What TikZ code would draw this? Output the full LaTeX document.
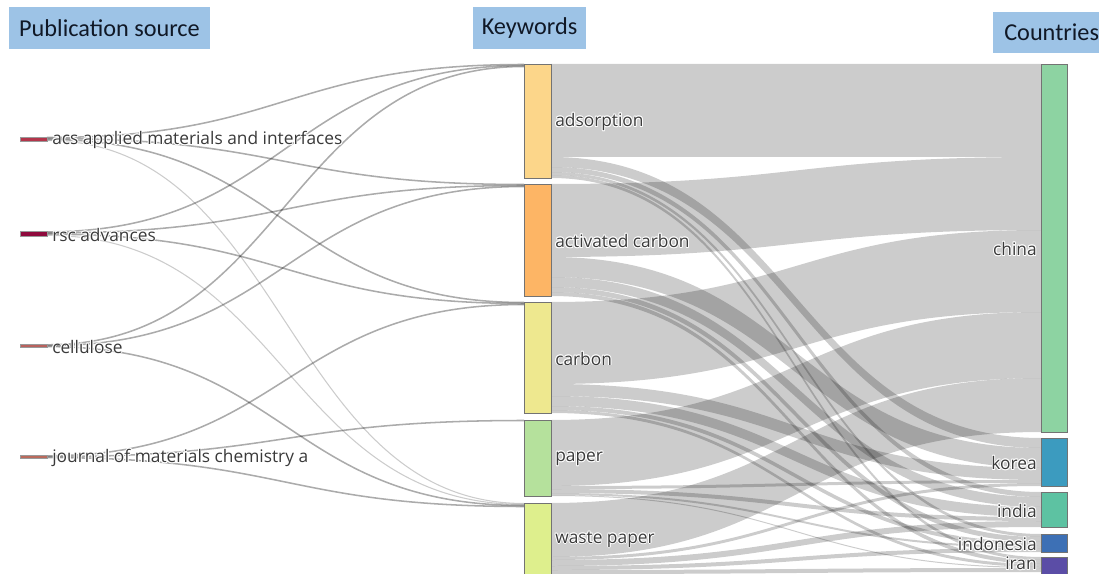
\documentclass[tikz,border=0pt]{standalone}
\usepackage{fontspec}
\setmainfont{Open Sans}
\newfontfamily\hdrfont{Carlito}
\definecolor{hdrblue}{HTML}{9DC3E6}
\definecolor{hdrtxt}{HTML}{101826}
\definecolor{lbltxt}{HTML}{3A3A3A}
\definecolor{cAds}{HTML}{FCD68A}
\definecolor{cAC}{HTML}{FDB565}
\definecolor{cCarb}{HTML}{EEE88F}
\definecolor{cPaper}{HTML}{B5E19C}
\definecolor{cWaste}{HTML}{DEEF8D}
\definecolor{cChina}{HTML}{8DD3A2}
\definecolor{cKorea}{HTML}{3C9BBF}
\definecolor{cIndia}{HTML}{5DC2A2}
\definecolor{cIndo}{HTML}{3D70B5}
\definecolor{cIran}{HTML}{5B4DA6}
\definecolor{cAcs}{HTML}{B3364B}
\definecolor{cRsc}{HTML}{8F0A3D}
\definecolor{cCell}{HTML}{B8625E}
\definecolor{cJour}{HTML}{BA6A5C}
\newcommand\kband[4]{\fill[flow] (551,#1) .. controls (796,#1) and (796,#3) .. (1041,#3) -- (1041,#4) .. controls (796,#4) and (796,#2) .. (551,#2) -- cycle;}
\newcommand\slink[3]{\draw[srclink,#3] (47,#1) .. controls (285.5,#1) and (285.5,#2) .. (524,#2);}
\newcommand\hsh[3]{\rlap{\hspace*{#1}\raisebox{#2}{#3}}}
\newcommand\halo[1]{{\color{white}\hsh{0.7pt}{0pt}{#1}\hsh{-0.7pt}{0pt}{#1}\hsh{0pt}{0.7pt}{#1}\hsh{0pt}{-0.7pt}{#1}\hsh{0.5pt}{0.5pt}{#1}\hsh{-0.5pt}{0.5pt}{#1}\hsh{0.5pt}{-0.5pt}{#1}\hsh{-0.5pt}{-0.5pt}{#1}}#1}
\begin{document}
\begin{tikzpicture}[x=0.75pt,y=-0.75pt,
  flow/.style={fill=black,fill opacity=0.2},
  srclink/.style={draw=black,draw opacity=0.33,line width=1.15pt},
  lightlink/.style={draw opacity=0.2,line width=0.8pt},
  nodebox/.style={draw=black!55,line width=0.4pt},
  srcbar/.style={draw=black!40,line width=0.3pt},
  hdrbox/.style={fill=hdrblue},
  hdrlabel/.style={font=\hdrfont\fontsize{18.2}{20}\selectfont,text=hdrtxt,inner sep=0pt},
  lbl/.style={font=\fontsize{13}{15}\selectfont,text=lbltxt,inner sep=0pt},
  lblw/.style={lbl,anchor=west},
  lble/.style={lbl,anchor=east}]
\useasboundingbox (0,0) rectangle (1099,574);
\clip (0,0) rectangle (1099,574);
% headers
\fill[hdrbox] (9,7) rectangle (210,49);
\node[hdrlabel] (hsrc) at (109.5,28) {Publication source};
\fill[hdrbox] (473,7) rectangle (586,49);
\node[hdrlabel] (hkw) at (529.5,28) {Keywords};
\fill[hdrbox] (993,12) rectangle (1110,53);
\node[hdrlabel,anchor=west] (hco) at (1004,32.5) {Countries};
% keyword -> country flows
\kband{64}{157}{64}{157}
\kband{157}{167}{438}{448}
\kband{167}{172}{492}{497}
\kband{172}{175}{534}{537}
\kband{175}{178}{557}{560}
\kband{184}{257}{157}{230}
\kband{257}{277}{448}{468}
\kband{277}{287}{497}{507}
\kband{287}{292}{537}{542}
\kband{292}{296}{560}{564}
\kband{302}{384}{230}{312}
\kband{384}{396}{468}{480}
\kband{396}{406}{507}{517}
\kband{406}{410}{542}{546}
\kband{410}{413}{564}{567}
\kband{420}{486}{312}{378}
\kband{486}{489}{480}{483}
\kband{489}{493}{517}{521}
\kband{493}{495}{546}{548}
\kband{495}{496}{567}{568}
\kband{503}{557}{378}{432}
\kband{557}{560}{483}{486}
\kband{560}{566}{521}{527}
\kband{566}{570}{548}{552}
\kband{570}{574}{568}{572}
% source -> keyword links
\slink{137.5}{64.5}{}
\slink{138.5}{184.5}{}
\slink{139.5}{302.5}{}
\slink{140.5}{503.5}{lightlink}
\slink{231.8}{65.5}{}
\slink{233}{185.5}{}
\slink{234.2}{303.5}{}
\slink{235.4}{504.5}{lightlink}
\slink{344.8}{66.5}{}
\slink{345.7}{186.5}{}
\slink{346.6}{505.5}{}
\slink{455.8}{304.5}{}
\slink{456.7}{420.5}{}
\slink{457.6}{506.5}{}
% source bars
\filldraw[srcbar,fill=cAcs] (20,137) rectangle (47,141);
\filldraw[srcbar,fill=cRsc] (20,231) rectangle (47,236);
\filldraw[srcbar,fill=cCell] (20,344.5) rectangle (47,347);
\filldraw[srcbar,fill=cJour] (20,455.5) rectangle (47,458);
% keyword nodes
\filldraw[nodebox,fill=cAds] (524,64) rectangle (551,178);
\filldraw[nodebox,fill=cAC] (524,184) rectangle (551,296);
\filldraw[nodebox,fill=cCarb] (524,302) rectangle (551,413);
\filldraw[nodebox,fill=cPaper] (524,420) rectangle (551,496);
\filldraw[nodebox,fill=cWaste] (524,503) rectangle (551,576);
% country nodes
\filldraw[nodebox,fill=cChina] (1041,64) rectangle (1067,432);
\filldraw[nodebox,fill=cKorea] (1041,438) rectangle (1067,486);
\filldraw[nodebox,fill=cIndia] (1041,492) rectangle (1067,527);
\filldraw[nodebox,fill=cIndo] (1041,534) rectangle (1067,552);
\filldraw[nodebox,fill=cIran] (1041,557) rectangle (1067,576);
% labels
\node[lblw] (acs) at (52,140) {\halo{acs applied materials and interfaces}};
\node[lblw] (rsc) at (52,234.5) {\halo{rsc advances}};
\node[lblw] (cell) at (52,346.5) {\halo{cellulose}};
\node[lblw] (jour) at (52,458) {\halo{journal of materials chemistry a}};
\node[lblw] (ads) at (555,122) {\halo{adsorption}};
\node[lblw] (ac) at (555,241) {\halo{activated carbon}};
\node[lblw] (carb) at (555,358.5) {\halo{carbon}};
\node[lblw] (paper) at (555,459) {\halo{paper}};
\node[lblw] (waste) at (555,539.5) {\halo{waste paper}};
\node[lble] (china) at (1037,249) {\halo{china}};
\node[lble] (korea) at (1037,463) {\halo{korea}};
\node[lble] (india) at (1037,511) {\halo{india}};
\node[lble] (indo) at (1037,544) {\halo{indonesia}};
\node[lble] (iran) at (1037,563.5) {\halo{iran}};
\end{tikzpicture}
\end{document}
